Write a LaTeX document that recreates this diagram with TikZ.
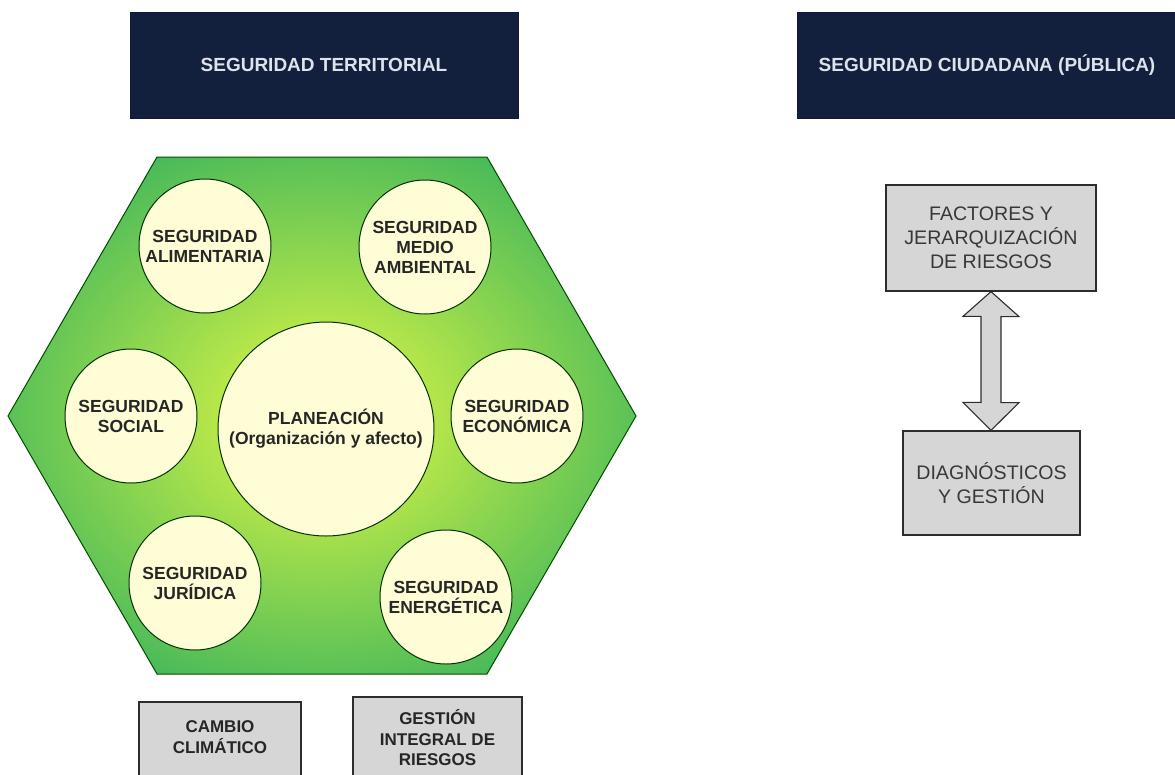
\documentclass[tikz,border=0pt]{standalone}
\usepackage{fontspec}
\setmainfont{Liberation Sans}
\usetikzlibrary{shapes.geometric}
\definecolor{navy}{RGB}{18,32,62}
\definecolor{headtext}{RGB}{222,226,234}
\definecolor{hexout}{RGB}{68,184,90}
\definecolor{hexin}{RGB}{196,236,72}
\definecolor{cream}{RGB}{255,253,214}
\definecolor{boxgray}{RGB}{214,214,214}
\definecolor{edgegray}{RGB}{45,45,45}
\pgfdeclareradialshading{hexshade}{\pgfpoint{0bp}{0bp}}{color(0bp)=(hexin); color(6bp)=(hexin); color(29bp)=(hexout); color(50bp)=(hexout)}
\tikzset{
  header/.style={rectangle, fill=navy, draw=navy!80!black, minimum width=#1, minimum height=106,
    text=headtext, font=\bfseries\fontsize{19}{22}\selectfont},
  circ/.style={ellipse, fill=cream, draw=black!80!green, line width=1, minimum width=132, minimum height=134,
    inner sep=0},
  ctext/.style={align=center, inner sep=0, font=\bfseries\fontsize{17.5}{20}\selectfont, text=black!85},
  graybox/.style={rectangle, fill=boxgray, draw=edgegray, line width=1.2},
  boxtext/.style={align=center, text=black!78, font=\fontsize{19.6}{24}\selectfont},
  boldtext/.style={align=center, text=black!85, font=\bfseries\fontsize{17}{20.5}\selectfont},
  dblarrow/.style={fill=boxgray, draw=edgegray, line width=1.1, line join=miter}
}
\begin{document}
\begin{tikzpicture}[x=1pt,y=-1pt]
\clip (0,0) rectangle (1175,774);
\fill[white] (0,0) rectangle (1175,774);

% headers
\node[header=388] (hterr) at (324,65) {SEGURIDAD TERRITORIAL};
\node[header=380] (hciud) at (987,65) {SEGURIDAD CIUDADANA (PÚBLICA)};

% hexagon
\path[draw=black!70!green, line width=1, shading=hexshade]
  (157,157) -- (487,157) -- (636,416) -- (487,674) -- (157,674) -- (8,416) -- cycle;

% circles
\node[circ, label={[ctext]center:SEGURIDAD\\ALIMENTARIA}] (alim) at (205,246) {};
\node[circ, label={[ctext]center:SEGURIDAD\\MEDIO\\AMBIENTAL}] (medio) at (425,247) {};
\node[circ, label={[ctext]center:SEGURIDAD\\SOCIAL}] (social) at (131,416) {};
\node[circ, minimum width=216, minimum height=214, label={[ctext]center:PLANEACIÓN\\(Organización y afecto)}] (plan) at (326,429) {};
\node[circ, label={[ctext]center:SEGURIDAD\\ECONÓMICA}] (econ) at (517,416) {};
\node[circ, label={[ctext]center:SEGURIDAD\\JURÍDICA}] (jur) at (195,583) {};
\node[circ, label={[ctext]center:SEGURIDAD\\ENERGÉTICA}] (ener) at (446,597) {};

% right side boxes
\node[graybox, minimum width=210, minimum height=106, boxtext] (fact) at (991,238) {FACTORES Y\\JERARQUIZACIÓN\\DE RIESGOS};
\node[graybox, minimum width=177, minimum height=104, boxtext] (diag) at (991.5,483) {DIAGNÓSTICOS\\Y GESTIÓN};

% double arrow between boxes
\coordinate (ax) at (991,0);
\coordinate (atip) at (ax |- fact.south);
\coordinate (btip) at (ax |- diag.north);
\path[dblarrow] (atip) -- ++(28,25) -- ++(-18,0) -- ++(0,86) -- ++(18,0) -- (btip)
  -- ++(-28,-28) -- ++(18,0) -- ++(0,-86) -- ++(-18,0) -- cycle;

% bottom boxes
\node[graybox, minimum width=162, minimum height=100] (cambio) at (220,752) {};
\node[boldtext] (cambiot) at (220,737) {CAMBIO\\CLIMÁTICO};
\node[graybox, minimum width=169, minimum height=100] (gest) at (437.5,747) {};
\node[boldtext] (gestt) at (437.5,738) {GESTIÓN\\INTEGRAL DE\\RIESGOS};
\end{tikzpicture}
\end{document}
